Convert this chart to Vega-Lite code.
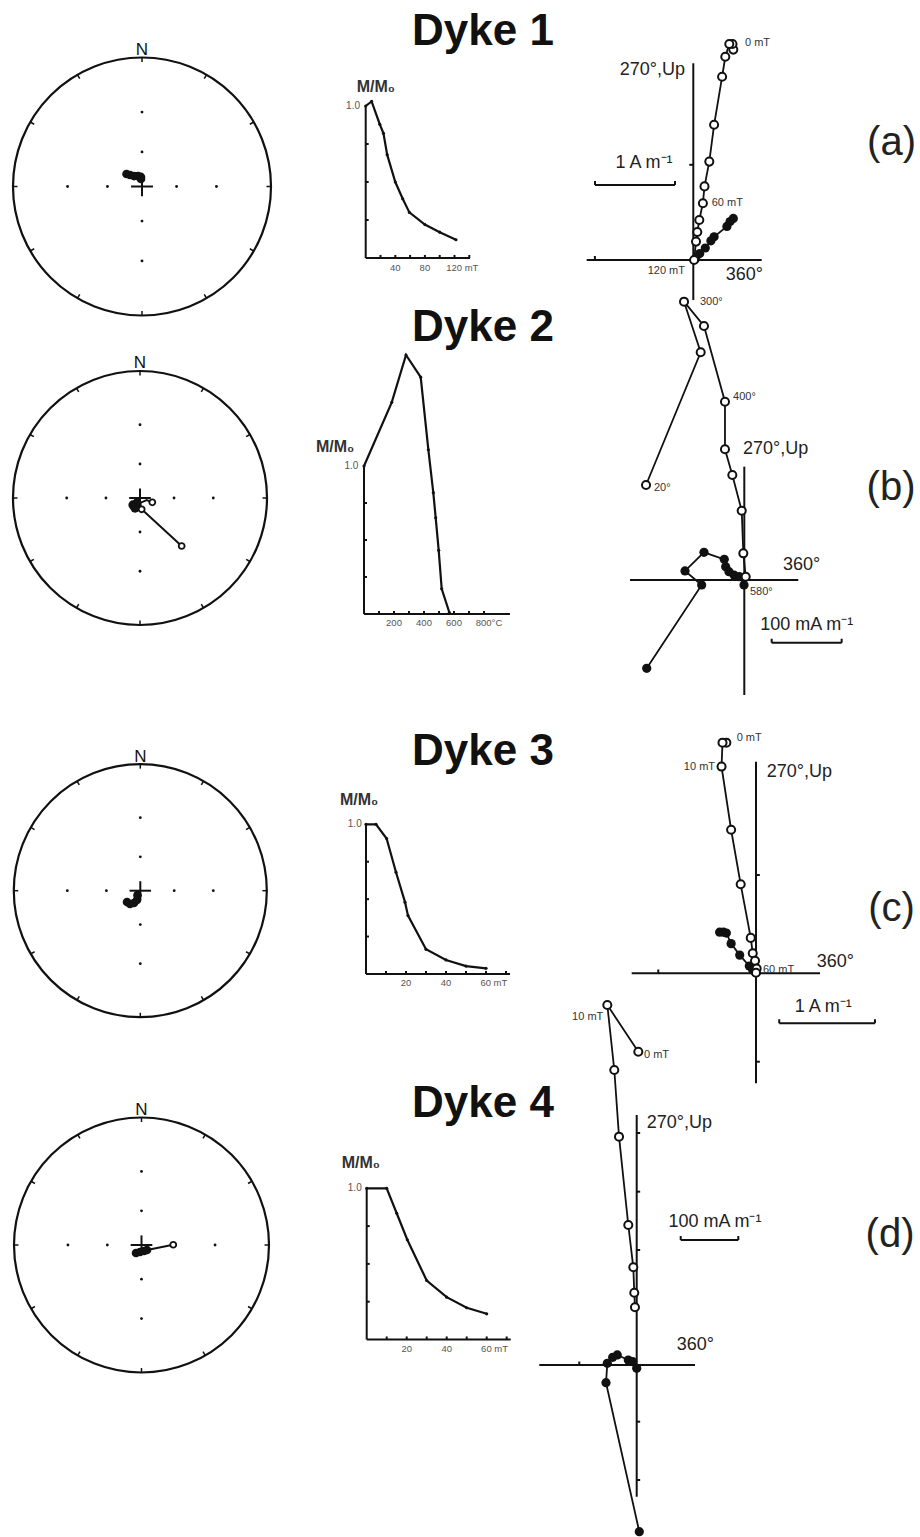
{
"$schema": "https://vega.github.io/schema/vega-lite/v6.json",
"width": 920, "height": 1537, "padding": 0,
"autosize": {"type": "none"},
"background": "white",
"config": {"view": {"stroke": null}, "mark": {"font": "Liberation Sans"}, "text": {"font": "Liberation Sans"}},
"datasets": {
"ring": [{"x": 0, "y": 0}],
"nlab": [{"x": 0, "y": 1.02, "t": "N"}],
"netticks": [
{"x":0,"y":0.965,"x2":0,"y2":1},{"x":0.4825,"y":0.8357,"x2":0.5,"y2":0.866},{"x":0.8357,"y":0.4825,"x2":0.866,"y2":0.5},
{"x":0.965,"y":0,"x2":1,"y2":0},{"x":0.8357,"y":-0.4825,"x2":0.866,"y2":-0.5},{"x":0.4825,"y":-0.8357,"x2":0.5,"y2":-0.866},
{"x":0,"y":-0.965,"x2":0,"y2":-1},{"x":-0.4825,"y":-0.8357,"x2":-0.5,"y2":-0.866},{"x":-0.8357,"y":-0.4825,"x2":-0.866,"y2":-0.5},
{"x":-0.965,"y":0,"x2":-1,"y2":0},{"x":-0.8357,"y":0.4825,"x2":-0.866,"y2":0.5},{"x":-0.4825,"y":0.8357,"x2":-0.5,"y2":0.866}],
"netdots": [{"x":0,"y":0.268},{"x":0,"y":0.577},{"x":0,"y":-0.268},{"x":0,"y":-0.577},{"x":0.268,"y":0},{"x":0.577,"y":0},{"x":-0.268,"y":0},{"x":-0.577,"y":0}],
"cross": [{"x":-0.085,"y":0,"x2":0.085,"y2":0},{"x":0,"y":-0.075,"x2":0,"y2":0.075}],
"st1": [{"x":-0.12,"y":0.097,"kind":"f"},{"x":-0.093,"y":0.089,"kind":"f"},{"x":-0.062,"y":0.081,"kind":"f"},{"x":-0.031,"y":0.081,"kind":"f"},{"x":-0.008,"y":0.074,"kind":"f"},{"x":-0.008,"y":0.058,"kind":"f"}],
"st2": [{"x":0.097,"y":-0.034,"kind":"o"},{"x":0.053,"y":-0.016,"kind":"p"},{"x":0.0,"y":-0.039,"kind":"p"},{"x":0.013,"y":-0.089,"kind":"o"},{"x":0.328,"y":-0.378,"kind":"o"},
{"x":-0.055,"y":-0.055,"kind":"f"},{"x":-0.039,"y":-0.079,"kind":"f"},{"x":-0.024,"y":-0.039,"kind":"f"}],
"st3": [{"x":-0.105,"y":-0.089,"kind":"f"},{"x":-0.081,"y":-0.105,"kind":"f"},{"x":-0.05,"y":-0.097,"kind":"f"},{"x":-0.026,"y":-0.074,"kind":"f"},{"x":-0.022,"y":-0.035,"kind":"f"}],
"st4": [{"x":0.043,"y":-0.039,"kind":"p"},{"x":0.249,"y":0.002,"kind":"o"},
{"x":-0.043,"y":-0.063,"kind":"f"},{"x":-0.012,"y":-0.055,"kind":"f"},{"x":0.02,"y":-0.047,"kind":"f"},{"x":0.043,"y":-0.039,"kind":"f"}],
"d1": [{"x":0,"y":1.0},{"x":8,"y":1.03},{"x":19,"y":0.88},{"x":24,"y":0.82},{"x":29,"y":0.68},{"x":40,"y":0.5},{"x":50,"y":0.39},{"x":59,"y":0.3},{"x":80,"y":0.22},{"x":100,"y":0.17},{"x":122,"y":0.12}],
"d2": [{"x":0,"y":1.0},{"x":185,"y":1.43},{"x":280,"y":1.75},{"x":378,"y":1.6},{"x":429,"y":1.11},{"x":462,"y":0.82},{"x":478,"y":0.65},{"x":498,"y":0.43},{"x":518,"y":0.17},{"x":569,"y":0.01}],
"d3": [{"x":0,"y":1.0},{"x":5,"y":1.0},{"x":10.3,"y":0.905},{"x":15,"y":0.68},{"x":19.5,"y":0.48},{"x":21,"y":0.39},{"x":30,"y":0.165},{"x":40,"y":0.094},{"x":50,"y":0.053},{"x":60,"y":0.038}],
"d4": [{"x":0,"y":1.0},{"x":10,"y":1.0},{"x":15,"y":0.835},{"x":20.3,"y":0.66},{"x":30,"y":0.39},{"x":40,"y":0.28},{"x":50,"y":0.21},{"x":60,"y":0.17}],
"d1ax": [{"x":0,"y":0,"x2":0,"y2":1},{"x":0,"y":0,"x2":141,"y2":0},
{"x":0,"y":0.25,"x2":4,"y2":0.25},{"x":0,"y":0.5,"x2":4,"y2":0.5},{"x":0,"y":0.75,"x2":4,"y2":0.75},
{"x":20,"y":0,"x2":20,"y2":0.02},{"x":40,"y":0,"x2":40,"y2":0.02},{"x":60,"y":0,"x2":60,"y2":0.02},{"x":80,"y":0,"x2":80,"y2":0.02},{"x":100,"y":0,"x2":100,"y2":0.02},{"x":120,"y":0,"x2":120,"y2":0.02},{"x":140,"y":0,"x2":140,"y2":0.02}],
"d2ax": [{"x":0,"y":0,"x2":0,"y2":1},{"x":0,"y":0,"x2":973,"y2":0},
{"x":0,"y":0.25,"x2":20,"y2":0.25},{"x":0,"y":0.5,"x2":20,"y2":0.5},{"x":0,"y":0.75,"x2":20,"y2":0.75},
{"x":100,"y":0,"x2":100,"y2":0.02},{"x":200,"y":0,"x2":200,"y2":0.02},{"x":300,"y":0,"x2":300,"y2":0.02},{"x":400,"y":0,"x2":400,"y2":0.02},{"x":500,"y":0,"x2":500,"y2":0.02},{"x":600,"y":0,"x2":600,"y2":0.02},{"x":700,"y":0,"x2":700,"y2":0.02},{"x":800,"y":0,"x2":800,"y2":0.02}],
"d34ax": [{"x":0,"y":0,"x2":0,"y2":1},{"x":0,"y":0,"x2":72,"y2":0},
{"x":0,"y":0.25,"x2":1.5,"y2":0.25},{"x":0,"y":0.5,"x2":1.5,"y2":0.5},{"x":0,"y":0.75,"x2":1.5,"y2":0.75},
{"x":10,"y":0,"x2":10,"y2":0.02},{"x":20,"y":0,"x2":20,"y2":0.02},{"x":30,"y":0,"x2":30,"y2":0.02},{"x":40,"y":0,"x2":40,"y2":0.02},{"x":50,"y":0,"x2":50,"y2":0.02},{"x":60,"y":0,"x2":60,"y2":0.02},{"x":70,"y":0,"x2":70,"y2":0.02}],
"d1t": [{"x":40,"y":-0.03,"t":"40","r":"tc"},{"x":80,"y":-0.03,"t":"80","r":"tc"},{"x":108.7,"y":-0.03,"t":"120 mT","r":"tl"},{"x":-7.7,"y":1,"t":"1.0","r":"yl"},{"x":-12.2,"y":1.092,"t":"M/M₀","r":"ml"},{"x":158.5,"y":1.401,"t":"Dyke 1","r":"ti"}],
"d2t": [{"x":200,"y":-0.027,"t":"200","r":"tc"},{"x":400,"y":-0.027,"t":"400","r":"tc"},{"x":600,"y":-0.027,"t":"600","r":"tc"},{"x":745,"y":-0.027,"t":"800°C","r":"tl"},{"x":-38,"y":1,"t":"1.0","r":"yl"},{"x":-320,"y":1.097,"t":"M/M₀","r":"ml"},{"x":793.3,"y":1.845,"t":"Dyke 2","r":"ti"}],
"d3t": [{"x":20,"y":-0.027,"t":"20","r":"tc"},{"x":40,"y":-0.027,"t":"40","r":"tc"},{"x":57.2,"y":-0.027,"t":"60 mT","r":"tl"},{"x":-2.15,"y":1,"t":"1.0","r":"yl"},{"x":-13,"y":1.129,"t":"M/M₀","r":"ml"},{"x":58.5,"y":1.396,"t":"Dyke 3","r":"ti"}],
"d4t": [{"x":20,"y":-0.027,"t":"20","r":"tc"},{"x":40,"y":-0.027,"t":"40","r":"tc"},{"x":57.2,"y":-0.027,"t":"60 mT","r":"tl"},{"x":-2.5,"y":1,"t":"1.0","r":"yl"},{"x":-12.5,"y":1.132,"t":"M/M₀","r":"ml"},{"x":58.15,"y":1.4735,"t":"Dyke 4","r":"ti"}],
"z1": [{"x":0.5,"y":2.63,"kind":"o"},{"x":0.49,"y":2.7,"kind":"o"},{"x":0.45,"y":2.7,"kind":"o"},{"x":0.4,"y":2.54,"kind":"o"},{"x":0.36,"y":2.29,"kind":"o"},{"x":0.26,"y":1.69,"kind":"o"},{"x":0.2,"y":1.23,"kind":"o"},{"x":0.14,"y":0.92,"kind":"o"},{"x":0.12,"y":0.71,"kind":"o"},{"x":0.075,"y":0.5,"kind":"o"},{"x":0.05,"y":0.35,"kind":"o"},{"x":0.034,"y":0.23,"kind":"o"},{"x":0.01,"y":0.0,"kind":"o"},
{"x":0.5,"y":0.52,"kind":"f"},{"x":0.46,"y":0.48,"kind":"f"},{"x":0.42,"y":0.42,"kind":"f"},{"x":0.26,"y":0.29,"kind":"f"},{"x":0.22,"y":0.24,"kind":"f"},{"x":0.15,"y":0.15,"kind":"f"},{"x":0.08,"y":0.08,"kind":"f"},{"x":0.03,"y":0.02,"kind":"f"}],
"z2": [{"x":-140.4,"y":135.7,"kind":"o"},{"x":-62.3,"y":325.3,"kind":"o"},{"x":-86.1,"y":397.6,"kind":"o"},{"x":-57.6,"y":362.9,"kind":"o"},{"x":-27.6,"y":254.7,"kind":"o"},{"x":-27.6,"y":186.7,"kind":"o"},{"x":-17.1,"y":150,"kind":"o"},{"x":-3.7,"y":99,"kind":"o"},{"x":-1.4,"y":38.1,"kind":"o"},{"x":2,"y":4.7,"kind":"o"},
{"x":-139.4,"y":-126.2,"kind":"f"},{"x":-60.9,"y":-7.1,"kind":"f"},{"x":-84.7,"y":12.9,"kind":"f"},{"x":-57.6,"y":39.5,"kind":"f"},{"x":-28.6,"y":29.5,"kind":"f"},{"x":-26.6,"y":19,"kind":"f"},{"x":-21.9,"y":11.9,"kind":"f"},{"x":-14.7,"y":7.1,"kind":"f"},{"x":-7.1,"y":4.7,"kind":"f"},{"x":-0.4,"y":-7.1,"kind":"f"}],
"z3": [{"x":-0.31,"y":2.41,"kind":"o"},{"x":-0.35,"y":2.41,"kind":"o"},{"x":-0.36,"y":2.16,"kind":"o"},{"x":-0.26,"y":1.5,"kind":"o"},{"x":-0.16,"y":0.93,"kind":"o"},{"x":-0.055,"y":0.37,"kind":"o"},{"x":-0.034,"y":0.21,"kind":"o"},{"x":-0.01,"y":0.13,"kind":"o"},{"x":0.007,"y":0.05,"kind":"o"},{"x":0,"y":0.006,"kind":"o"},
{"x":-0.38,"y":0.43,"kind":"f"},{"x":-0.34,"y":0.43,"kind":"f"},{"x":-0.31,"y":0.42,"kind":"f"},{"x":-0.26,"y":0.31,"kind":"f"},{"x":-0.17,"y":0.19,"kind":"f"},{"x":-0.07,"y":0.076,"kind":"f"},{"x":-0.034,"y":0.034,"kind":"f"},{"x":0,"y":0.006,"kind":"f"}],
"z4": [{"x":2.8,"y":543.9,"kind":"o"},{"x":-51,"y":625,"kind":"o"},{"x":-38.9,"y":512.2,"kind":"o"},{"x":-30.7,"y":396.4,"kind":"o"},{"x":-14.6,"y":243.1,"kind":"o"},{"x":-5.9,"y":169.6,"kind":"o"},{"x":-4.2,"y":125.5,"kind":"o"},{"x":-3.0,"y":100.2,"kind":"o"},
{"x":4.5,"y":-289.4,"kind":"f"},{"x":-53.3,"y":-30.7,"kind":"f"},{"x":-51,"y":2.9,"kind":"f"},{"x":-41.7,"y":13.4,"kind":"f"},{"x":-33.7,"y":17.4,"kind":"f"},{"x":-14.6,"y":8.7,"kind":"f"},{"x":-6.9,"y":5.7,"kind":"f"},{"x":0,"y":-5.7,"kind":"f"}],
"z1ax": [{"x":-1.333,"y":0,"x2":0.855,"y2":0},{"x":0,"y":-0.5,"x2":0,"y2":2.459},{"x":-1.23,"y":0,"x2":-1.23,"y2":0.05},{"x":-0.05,"y":1.19,"x2":0,"y2":1.19},
{"x":-1.229,"y":0.9375,"x2":-0.229,"y2":0.9375},{"x":-1.229,"y":0.9375,"x2":-1.229,"y2":0.9875},{"x":-0.229,"y":0.9375,"x2":-0.229,"y2":0.9875}],
"z2ax": [{"x":-163.3,"y":0,"x2":77.1,"y2":0},{"x":0,"y":-164.3,"x2":0,"y2":161.9},
{"x":39.1,"y":-89.6,"x2":139.1,"y2":-89.6},{"x":39.1,"y":-89.6,"x2":39.1,"y2":-83.9},{"x":139.1,"y":-89.6,"x2":139.1,"y2":-83.9}],
"z3ax": [{"x":-1.299,"y":0,"x2":0.669,"y2":0},{"x":0,"y":-1.149,"x2":0,"y2":2.211},{"x":-1.021,"y":0,"x2":-1.021,"y2":0.04},{"x":0,"y":1.027,"x2":0.04,"y2":1.027},{"x":0,"y":-0.924,"x2":0.04,"y2":-0.924},
{"x":0.243,"y":-0.522,"x2":1.243,"y2":-0.522},{"x":0.243,"y":-0.522,"x2":0.243,"y2":-0.48},{"x":1.243,"y":-0.522,"x2":1.243,"y2":-0.48}],
"z4ax": [{"x":-169.1,"y":0,"x2":101.2,"y2":0},{"x":0,"y":-228.6,"x2":0,"y2":434},{"x":-99.7,"y":0,"x2":-99.7,"y2":6},
{"x":0,"y":402.8,"x2":6,"y2":402.8},{"x":0,"y":300.9,"x2":6,"y2":300.9},{"x":0,"y":199.7,"x2":6,"y2":199.7},{"x":0,"y":-98.4,"x2":6,"y2":-98.4},{"x":0,"y":-199.7,"x2":6,"y2":-199.7},
{"x":76.4,"y":217,"x2":176.4,"y2":217},{"x":76.4,"y":217,"x2":76.4,"y2":223.9},{"x":176.4,"y":217,"x2":176.4,"y2":223.9}],
"z1t": [{"x":0.646,"y":2.7125,"t":"0 mT","r":"sl"},{"x":0.23,"y":0.7125,"t":"60 mT","r":"sl"},{"x":-0.104,"y":-0.134,"t":"120 mT","r":"sr"},{"x":-0.104,"y":2.375,"t":"270°,Up","r":"br"},{"x":0.405,"y":-0.1875,"t":"360°","r":"bl"},{"x":-0.616,"y":1.2125,"t":"1 A m⁻¹","r":"bc"},{"x":2.478,"y":1.4625,"t":"(a)","r":"lt"}],
"z2t": [{"x":-63.3,"y":397.6,"t":"300°","r":"sl"},{"x":-16.1,"y":261.9,"t":"400°","r":"sl"},{"x":-129,"y":131.4,"t":"20°","r":"sl"},{"x":8.1,"y":-16.7,"t":"580°","r":"sl"},{"x":-1.9,"y":186.7,"t":"270°,Up","r":"bl"},{"x":55.3,"y":21.4,"t":"360°","r":"bl"},{"x":89.1,"y":-64.3,"t":"100 mA m⁻¹","r":"bc"},{"x":209.6,"y":131.4,"t":"(b)","r":"lt"}],
"z3t": [{"x":-0.202,"y":2.456,"t":"0 mT","r":"sl"},{"x":0.073,"y":0.034,"t":"60 mT","r":"sl"},{"x":-0.428,"y":2.159,"t":"10 mT","r":"sr"},{"x":0.112,"y":2.107,"t":"270°,Up","r":"bl"},{"x":0.634,"y":0.121,"t":"360°","r":"bl"},{"x":0.703,"y":-0.349,"t":"1 A m⁻¹","r":"bc"},{"x":1.416,"y":0.672,"t":"(c)","r":"lt"}],
"z4t": [{"x":12.7,"y":538.2,"t":"0 mT","r":"sl"},{"x":-58,"y":604.7,"t":"10 mT","r":"sr"},{"x":17.4,"y":419.6,"t":"270°,Up","r":"bl"},{"x":69.4,"y":34.7,"t":"360°","r":"bl"},{"x":135.9,"y":248.8,"t":"100 mA m⁻¹","r":"bc"},{"x":439.8,"y":225.7,"t":"(d)","r":"lt"}]
},
"resolve": {"scale": {"x": "independent", "y": "independent"}},
"layer": [
{"encoding":{"x":{"field":"x","type":"quantitative","axis":null,"scale":{"domain":[-1,1],"range":[13,271],"nice":false,"zero":false}},"y":{"field":"y","type":"quantitative","axis":null,"scale":{"domain":[-1,1],"range":[315.5,57.5],"nice":false,"zero":false}}},
"layer":[
{"data":{"name":"ring"},"mark":{"type":"point","shape":"circle","size":66564,"filled":false,"stroke":"#111","strokeWidth":2.2,"opacity":1}},
{"data":{"name":"netticks"},"mark":{"type":"rule","color":"#111","strokeWidth":1.5},"encoding":{"x2":{"field":"x2"},"y2":{"field":"y2"}}},
{"data":{"name":"netdots"},"mark":{"type":"point","shape":"circle","filled":true,"size":8,"color":"#111","opacity":1}},
{"data":{"name":"cross"},"mark":{"type":"rule","color":"#111","strokeWidth":2},"encoding":{"x2":{"field":"x2"},"y2":{"field":"y2"}}},
{"data":{"name":"st1"},"transform":[{"filter":"datum.kind == 'f'"}],"mark":{"type":"point","shape":"circle","filled":true,"color":"#111","size":75,"opacity":1}},
{"data":{"name":"nlab"},"mark":{"type":"text","fontSize":17,"align":"center","baseline":"alphabetic","color":"#111"},"encoding":{"text":{"field":"t"}}}
]},
{"encoding":{"x":{"field":"x","type":"quantitative","axis":null,"scale":{"domain":[-1,1],"range":[13,267],"nice":false,"zero":false}},"y":{"field":"y","type":"quantitative","axis":null,"scale":{"domain":[-1,1],"range":[625,371],"nice":false,"zero":false}}},
"layer":[
{"data":{"name":"ring"},"mark":{"type":"point","shape":"circle","size":64516,"filled":false,"stroke":"#111","strokeWidth":2.2,"opacity":1}},
{"data":{"name":"netticks"},"mark":{"type":"rule","color":"#111","strokeWidth":1.5},"encoding":{"x2":{"field":"x2"},"y2":{"field":"y2"}}},
{"data":{"name":"netdots"},"mark":{"type":"point","shape":"circle","filled":true,"size":8,"color":"#111","opacity":1}},
{"data":{"name":"cross"},"mark":{"type":"rule","color":"#111","strokeWidth":2},"encoding":{"x2":{"field":"x2"},"y2":{"field":"y2"}}},
{"data":{"name":"st2"},"transform":[{"filter":"datum.kind != 'f'"}],"mark":{"type":"line","color":"#111","strokeWidth":2},"encoding":{"order":{"value":null}}},
{"data":{"name":"st2"},"transform":[{"filter":"datum.kind == 'f'"}],"mark":{"type":"point","shape":"circle","filled":true,"color":"#111","size":85,"opacity":1}},
{"data":{"name":"st2"},"transform":[{"filter":"datum.kind == 'o'"}],"mark":{"type":"point","shape":"circle","filled":true,"fill":"white","stroke":"#111","strokeWidth":1.8,"size":35,"opacity":1}},
{"data":{"name":"nlab"},"mark":{"type":"text","fontSize":17,"align":"center","baseline":"alphabetic","color":"#111"},"encoding":{"text":{"field":"t"}}}
]},
{"encoding":{"x":{"field":"x","type":"quantitative","axis":null,"scale":{"domain":[-1,1],"range":[13.8,266.8],"nice":false,"zero":false}},"y":{"field":"y","type":"quantitative","axis":null,"scale":{"domain":[-1,1],"range":[1017.2,764.2],"nice":false,"zero":false}}},
"layer":[
{"data":{"name":"ring"},"mark":{"type":"point","shape":"circle","size":64009,"filled":false,"stroke":"#111","strokeWidth":2.2,"opacity":1}},
{"data":{"name":"netticks"},"mark":{"type":"rule","color":"#111","strokeWidth":1.5},"encoding":{"x2":{"field":"x2"},"y2":{"field":"y2"}}},
{"data":{"name":"netdots"},"mark":{"type":"point","shape":"circle","filled":true,"size":8,"color":"#111","opacity":1}},
{"data":{"name":"cross"},"mark":{"type":"rule","color":"#111","strokeWidth":2},"encoding":{"x2":{"field":"x2"},"y2":{"field":"y2"}}},
{"data":{"name":"st3"},"transform":[{"filter":"datum.kind == 'f'"}],"mark":{"type":"point","shape":"circle","filled":true,"color":"#111","size":75,"opacity":1}},
{"data":{"name":"nlab"},"mark":{"type":"text","fontSize":17,"align":"center","baseline":"alphabetic","color":"#111"},"encoding":{"text":{"field":"t"}}}
]},
{"encoding":{"x":{"field":"x","type":"quantitative","axis":null,"scale":{"domain":[-1,1],"range":[14,269],"nice":false,"zero":false}},"y":{"field":"y","type":"quantitative","axis":null,"scale":{"domain":[-1,1],"range":[1372.5,1117.5],"nice":false,"zero":false}}},
"layer":[
{"data":{"name":"ring"},"mark":{"type":"point","shape":"circle","size":65025,"filled":false,"stroke":"#111","strokeWidth":2.2,"opacity":1}},
{"data":{"name":"netticks"},"mark":{"type":"rule","color":"#111","strokeWidth":1.5},"encoding":{"x2":{"field":"x2"},"y2":{"field":"y2"}}},
{"data":{"name":"netdots"},"mark":{"type":"point","shape":"circle","filled":true,"size":8,"color":"#111","opacity":1}},
{"data":{"name":"cross"},"mark":{"type":"rule","color":"#111","strokeWidth":2},"encoding":{"x2":{"field":"x2"},"y2":{"field":"y2"}}},
{"data":{"name":"st4"},"transform":[{"filter":"datum.kind != 'f'"}],"mark":{"type":"line","color":"#111","strokeWidth":2},"encoding":{"order":{"value":null}}},
{"data":{"name":"st4"},"transform":[{"filter":"datum.kind == 'f'"}],"mark":{"type":"point","shape":"circle","filled":true,"color":"#111","size":75,"opacity":1}},
{"data":{"name":"st4"},"transform":[{"filter":"datum.kind == 'o'"}],"mark":{"type":"point","shape":"circle","filled":true,"fill":"white","stroke":"#111","strokeWidth":1.8,"size":35,"opacity":1}},
{"data":{"name":"nlab"},"mark":{"type":"text","fontSize":17,"align":"center","baseline":"alphabetic","color":"#111"},"encoding":{"text":{"field":"t"}}}
]},
{"encoding":{"x":{"field":"x","type":"quantitative","axis":null,"scale":{"domain":[0,120],"range":[365.7,454.5],"nice":false,"zero":false}},"y":{"field":"y","type":"quantitative","axis":null,"scale":{"domain":[0,1],"range":[258,106],"nice":false,"zero":false}}},
"layer":[
{"data":{"name":"d1ax"},"mark":{"type":"rule","color":"#111","strokeWidth":2},"encoding":{"x2":{"field":"x2"},"y2":{"field":"y2"}}},
{"data":{"name":"d1"},"mark":{"type":"line","color":"#111","strokeWidth":2.2},"encoding":{"order":{"value":null}}},
{"data":{"name":"d1"},"mark":{"type":"point","shape":"circle","filled":true,"color":"#111","size":10,"opacity":1}},
{"data":{"name":"d1t"},"transform":[{"filter":"datum.r == 'tc'"}],"mark":{"type":"text","fontSize":9.5,"align":"center","baseline":"top","color":"#555"},"encoding":{"text":{"field":"t"}}},
{"data":{"name":"d1t"},"transform":[{"filter":"datum.r == 'tl'"}],"mark":{"type":"text","fontSize":9.5,"align":"left","baseline":"top","color":"#555"},"encoding":{"text":{"field":"t"}}},
{"data":{"name":"d1t"},"transform":[{"filter":"datum.r == 'yl'"}],"mark":{"type":"text","fontSize":10,"align":"right","baseline":"middle","color":"#555"},"encoding":{"text":{"field":"t"}}},
{"data":{"name":"d1t"},"transform":[{"filter":"datum.r == 'ml'"}],"mark":{"type":"text","fontSize":16,"fontWeight":"bold","align":"left","baseline":"alphabetic","color":"#333"},"encoding":{"text":{"field":"t"}}},
{"data":{"name":"d1t"},"transform":[{"filter":"datum.r == 'ti'"}],"mark":{"type":"text","fontSize":44,"fontWeight":"bold","align":"center","baseline":"alphabetic","color":"#111"},"encoding":{"text":{"field":"t"}}}
]},
{"encoding":{"x":{"field":"x","type":"quantitative","axis":null,"scale":{"domain":[0,800],"range":[364,484],"nice":false,"zero":false}},"y":{"field":"y","type":"quantitative","axis":null,"scale":{"domain":[0,1],"range":[614,466],"nice":false,"zero":false}}},
"layer":[
{"data":{"name":"d2ax"},"mark":{"type":"rule","color":"#111","strokeWidth":2},"encoding":{"x2":{"field":"x2"},"y2":{"field":"y2"}}},
{"data":{"name":"d2"},"mark":{"type":"line","color":"#111","strokeWidth":2.2},"encoding":{"order":{"value":null}}},
{"data":{"name":"d2"},"mark":{"type":"point","shape":"circle","filled":true,"color":"#111","size":10,"opacity":1}},
{"data":{"name":"d2t"},"transform":[{"filter":"datum.r == 'tc'"}],"mark":{"type":"text","fontSize":9.5,"align":"center","baseline":"top","color":"#555"},"encoding":{"text":{"field":"t"}}},
{"data":{"name":"d2t"},"transform":[{"filter":"datum.r == 'tl'"}],"mark":{"type":"text","fontSize":9.5,"align":"left","baseline":"top","color":"#555"},"encoding":{"text":{"field":"t"}}},
{"data":{"name":"d2t"},"transform":[{"filter":"datum.r == 'yl'"}],"mark":{"type":"text","fontSize":10,"align":"right","baseline":"middle","color":"#555"},"encoding":{"text":{"field":"t"}}},
{"data":{"name":"d2t"},"transform":[{"filter":"datum.r == 'ml'"}],"mark":{"type":"text","fontSize":16,"fontWeight":"bold","align":"left","baseline":"alphabetic","color":"#333"},"encoding":{"text":{"field":"t"}}},
{"data":{"name":"d2t"},"transform":[{"filter":"datum.r == 'ti'"}],"mark":{"type":"text","fontSize":44,"fontWeight":"bold","align":"center","baseline":"alphabetic","color":"#111"},"encoding":{"text":{"field":"t"}}}
]},
{"encoding":{"x":{"field":"x","type":"quantitative","axis":null,"scale":{"domain":[0,60],"range":[366,486],"nice":false,"zero":false}},"y":{"field":"y","type":"quantitative","axis":null,"scale":{"domain":[0,1],"range":[974,824.3],"nice":false,"zero":false}}},
"layer":[
{"data":{"name":"d34ax"},"mark":{"type":"rule","color":"#111","strokeWidth":2},"encoding":{"x2":{"field":"x2"},"y2":{"field":"y2"}}},
{"data":{"name":"d3"},"mark":{"type":"line","color":"#111","strokeWidth":2.2},"encoding":{"order":{"value":null}}},
{"data":{"name":"d3"},"mark":{"type":"point","shape":"circle","filled":true,"color":"#111","size":10,"opacity":1}},
{"data":{"name":"d3t"},"transform":[{"filter":"datum.r == 'tc'"}],"mark":{"type":"text","fontSize":9.5,"align":"center","baseline":"top","color":"#555"},"encoding":{"text":{"field":"t"}}},
{"data":{"name":"d3t"},"transform":[{"filter":"datum.r == 'tl'"}],"mark":{"type":"text","fontSize":9.5,"align":"left","baseline":"top","color":"#555"},"encoding":{"text":{"field":"t"}}},
{"data":{"name":"d3t"},"transform":[{"filter":"datum.r == 'yl'"}],"mark":{"type":"text","fontSize":10,"align":"right","baseline":"middle","color":"#555"},"encoding":{"text":{"field":"t"}}},
{"data":{"name":"d3t"},"transform":[{"filter":"datum.r == 'ml'"}],"mark":{"type":"text","fontSize":16,"fontWeight":"bold","align":"left","baseline":"alphabetic","color":"#333"},"encoding":{"text":{"field":"t"}}},
{"data":{"name":"d3t"},"transform":[{"filter":"datum.r == 'ti'"}],"mark":{"type":"text","fontSize":44,"fontWeight":"bold","align":"center","baseline":"alphabetic","color":"#111"},"encoding":{"text":{"field":"t"}}}
]},
{"encoding":{"x":{"field":"x","type":"quantitative","axis":null,"scale":{"domain":[0,60],"range":[366.7,486.7],"nice":false,"zero":false}},"y":{"field":"y","type":"quantitative","axis":null,"scale":{"domain":[0,1],"range":[1339.5,1188.3],"nice":false,"zero":false}}},
"layer":[
{"data":{"name":"d34ax"},"mark":{"type":"rule","color":"#111","strokeWidth":2},"encoding":{"x2":{"field":"x2"},"y2":{"field":"y2"}}},
{"data":{"name":"d4"},"mark":{"type":"line","color":"#111","strokeWidth":2.2},"encoding":{"order":{"value":null}}},
{"data":{"name":"d4"},"mark":{"type":"point","shape":"circle","filled":true,"color":"#111","size":10,"opacity":1}},
{"data":{"name":"d4t"},"transform":[{"filter":"datum.r == 'tc'"}],"mark":{"type":"text","fontSize":9.5,"align":"center","baseline":"top","color":"#555"},"encoding":{"text":{"field":"t"}}},
{"data":{"name":"d4t"},"transform":[{"filter":"datum.r == 'tl'"}],"mark":{"type":"text","fontSize":9.5,"align":"left","baseline":"top","color":"#555"},"encoding":{"text":{"field":"t"}}},
{"data":{"name":"d4t"},"transform":[{"filter":"datum.r == 'yl'"}],"mark":{"type":"text","fontSize":10,"align":"right","baseline":"middle","color":"#555"},"encoding":{"text":{"field":"t"}}},
{"data":{"name":"d4t"},"transform":[{"filter":"datum.r == 'ml'"}],"mark":{"type":"text","fontSize":16,"fontWeight":"bold","align":"left","baseline":"alphabetic","color":"#333"},"encoding":{"text":{"field":"t"}}},
{"data":{"name":"d4t"},"transform":[{"filter":"datum.r == 'ti'"}],"mark":{"type":"text","fontSize":44,"fontWeight":"bold","align":"center","baseline":"alphabetic","color":"#111"},"encoding":{"text":{"field":"t"}}}
]},
{"encoding":{"x":{"field":"x","type":"quantitative","axis":null,"scale":{"domain":[-1,1],"range":[613.3,773.3],"nice":false,"zero":false}},"y":{"field":"y","type":"quantitative","axis":null,"scale":{"domain":[-1,1],"range":[340,180],"nice":false,"zero":false}}},
"layer":[
{"data":{"name":"z1ax"},"mark":{"type":"rule","color":"#111","strokeWidth":2},"encoding":{"x2":{"field":"x2"},"y2":{"field":"y2"}}},
{"data":{"name":"z1"},"transform":[{"filter":"datum.kind == 'o'"}],"mark":{"type":"line","color":"#111","strokeWidth":1.8},"encoding":{"order":{"value":null}}},
{"data":{"name":"z1"},"transform":[{"filter":"datum.kind == 'f'"}],"mark":{"type":"line","color":"#111","strokeWidth":1.8},"encoding":{"order":{"value":null}}},
{"data":{"name":"z1"},"transform":[{"filter":"datum.kind == 'f'"}],"mark":{"type":"point","shape":"circle","filled":true,"color":"#111","size":85,"opacity":1}},
{"data":{"name":"z1"},"transform":[{"filter":"datum.kind == 'o'"}],"mark":{"type":"point","shape":"circle","filled":true,"fill":"white","stroke":"#111","strokeWidth":2,"size":65,"opacity":1}},
{"data":{"name":"z1t"},"transform":[{"filter":"datum.r == 'sl'"}],"mark":{"type":"text","fontSize":11,"align":"left","baseline":"middle","color":"#333"},"encoding":{"text":{"field":"t"}}},
{"data":{"name":"z1t"},"transform":[{"filter":"datum.r == 'sr'"}],"mark":{"type":"text","fontSize":11,"align":"right","baseline":"middle","color":"#333"},"encoding":{"text":{"field":"t"}}},
{"data":{"name":"z1t"},"transform":[{"filter":"datum.r == 'bl'"}],"mark":{"type":"text","fontSize":18,"align":"left","baseline":"middle","color":"#222"},"encoding":{"text":{"field":"t"}}},
{"data":{"name":"z1t"},"transform":[{"filter":"datum.r == 'br'"}],"mark":{"type":"text","fontSize":18,"align":"right","baseline":"middle","color":"#222"},"encoding":{"text":{"field":"t"}}},
{"data":{"name":"z1t"},"transform":[{"filter":"datum.r == 'bc'"}],"mark":{"type":"text","fontSize":18,"align":"center","baseline":"middle","color":"#222"},"encoding":{"text":{"field":"t"}}},
{"data":{"name":"z1t"},"transform":[{"filter":"datum.r == 'lt'"}],"mark":{"type":"text","fontSize":40,"align":"center","baseline":"middle","color":"#222"},"encoding":{"text":{"field":"t"}}}
]},
{"encoding":{"x":{"field":"x","type":"quantitative","axis":null,"scale":{"domain":[-100,100],"range":[674.3,814.3],"nice":false,"zero":false}},"y":{"field":"y","type":"quantitative","axis":null,"scale":{"domain":[-100,100],"range":[650,510],"nice":false,"zero":false}}},
"layer":[
{"data":{"name":"z2ax"},"mark":{"type":"rule","color":"#111","strokeWidth":2},"encoding":{"x2":{"field":"x2"},"y2":{"field":"y2"}}},
{"data":{"name":"z2"},"transform":[{"filter":"datum.kind == 'o'"}],"mark":{"type":"line","color":"#111","strokeWidth":1.8},"encoding":{"order":{"value":null}}},
{"data":{"name":"z2"},"transform":[{"filter":"datum.kind == 'f'"}],"mark":{"type":"line","color":"#111","strokeWidth":1.8},"encoding":{"order":{"value":null}}},
{"data":{"name":"z2"},"transform":[{"filter":"datum.kind == 'f'"}],"mark":{"type":"point","shape":"circle","filled":true,"color":"#111","size":85,"opacity":1}},
{"data":{"name":"z2"},"transform":[{"filter":"datum.kind == 'o'"}],"mark":{"type":"point","shape":"circle","filled":true,"fill":"white","stroke":"#111","strokeWidth":2,"size":65,"opacity":1}},
{"data":{"name":"z2t"},"transform":[{"filter":"datum.r == 'sl'"}],"mark":{"type":"text","fontSize":11,"align":"left","baseline":"middle","color":"#333"},"encoding":{"text":{"field":"t"}}},
{"data":{"name":"z2t"},"transform":[{"filter":"datum.r == 'bl'"}],"mark":{"type":"text","fontSize":18,"align":"left","baseline":"middle","color":"#222"},"encoding":{"text":{"field":"t"}}},
{"data":{"name":"z2t"},"transform":[{"filter":"datum.r == 'bc'"}],"mark":{"type":"text","fontSize":18,"align":"center","baseline":"middle","color":"#222"},"encoding":{"text":{"field":"t"}}},
{"data":{"name":"z2t"},"transform":[{"filter":"datum.r == 'lt'"}],"mark":{"type":"text","fontSize":40,"align":"center","baseline":"middle","color":"#222"},"encoding":{"text":{"field":"t"}}}
]},
{"encoding":{"x":{"field":"x","type":"quantitative","axis":null,"scale":{"domain":[-1,1],"range":[660.3,851.7],"nice":false,"zero":false}},"y":{"field":"y","type":"quantitative","axis":null,"scale":{"domain":[-1,1],"range":[1069,877.6],"nice":false,"zero":false}}},
"layer":[
{"data":{"name":"z3ax"},"mark":{"type":"rule","color":"#111","strokeWidth":2},"encoding":{"x2":{"field":"x2"},"y2":{"field":"y2"}}},
{"data":{"name":"z3"},"transform":[{"filter":"datum.kind == 'o'"}],"mark":{"type":"line","color":"#111","strokeWidth":1.8},"encoding":{"order":{"value":null}}},
{"data":{"name":"z3"},"transform":[{"filter":"datum.kind == 'f'"}],"mark":{"type":"line","color":"#111","strokeWidth":1.8},"encoding":{"order":{"value":null}}},
{"data":{"name":"z3"},"transform":[{"filter":"datum.kind == 'f'"}],"mark":{"type":"point","shape":"circle","filled":true,"color":"#111","size":85,"opacity":1}},
{"data":{"name":"z3"},"transform":[{"filter":"datum.kind == 'o'"}],"mark":{"type":"point","shape":"circle","filled":true,"fill":"white","stroke":"#111","strokeWidth":2,"size":65,"opacity":1}},
{"data":{"name":"z3t"},"transform":[{"filter":"datum.r == 'sl'"}],"mark":{"type":"text","fontSize":11,"align":"left","baseline":"middle","color":"#333"},"encoding":{"text":{"field":"t"}}},
{"data":{"name":"z3t"},"transform":[{"filter":"datum.r == 'sr'"}],"mark":{"type":"text","fontSize":11,"align":"right","baseline":"middle","color":"#333"},"encoding":{"text":{"field":"t"}}},
{"data":{"name":"z3t"},"transform":[{"filter":"datum.r == 'bl'"}],"mark":{"type":"text","fontSize":18,"align":"left","baseline":"middle","color":"#222"},"encoding":{"text":{"field":"t"}}},
{"data":{"name":"z3t"},"transform":[{"filter":"datum.r == 'bc'"}],"mark":{"type":"text","fontSize":18,"align":"center","baseline":"middle","color":"#222"},"encoding":{"text":{"field":"t"}}},
{"data":{"name":"z3t"},"transform":[{"filter":"datum.r == 'lt'"}],"mark":{"type":"text","fontSize":40,"align":"center","baseline":"middle","color":"#222"},"encoding":{"text":{"field":"t"}}}
]},
{"encoding":{"x":{"field":"x","type":"quantitative","axis":null,"scale":{"domain":[-100,100],"range":[579.1,694.3],"nice":false,"zero":false}},"y":{"field":"y","type":"quantitative","axis":null,"scale":{"domain":[-100,100],"range":[1422.6,1307.4],"nice":false,"zero":false}}},
"layer":[
{"data":{"name":"z4ax"},"mark":{"type":"rule","color":"#111","strokeWidth":2},"encoding":{"x2":{"field":"x2"},"y2":{"field":"y2"}}},
{"data":{"name":"z4"},"transform":[{"filter":"datum.kind == 'o'"}],"mark":{"type":"line","color":"#111","strokeWidth":1.8},"encoding":{"order":{"value":null}}},
{"data":{"name":"z4"},"transform":[{"filter":"datum.kind == 'f'"}],"mark":{"type":"line","color":"#111","strokeWidth":1.8},"encoding":{"order":{"value":null}}},
{"data":{"name":"z4"},"transform":[{"filter":"datum.kind == 'f'"}],"mark":{"type":"point","shape":"circle","filled":true,"color":"#111","size":85,"opacity":1}},
{"data":{"name":"z4"},"transform":[{"filter":"datum.kind == 'o'"}],"mark":{"type":"point","shape":"circle","filled":true,"fill":"white","stroke":"#111","strokeWidth":2,"size":65,"opacity":1}},
{"data":{"name":"z4t"},"transform":[{"filter":"datum.r == 'sl'"}],"mark":{"type":"text","fontSize":11,"align":"left","baseline":"middle","color":"#333"},"encoding":{"text":{"field":"t"}}},
{"data":{"name":"z4t"},"transform":[{"filter":"datum.r == 'sr'"}],"mark":{"type":"text","fontSize":11,"align":"right","baseline":"middle","color":"#333"},"encoding":{"text":{"field":"t"}}},
{"data":{"name":"z4t"},"transform":[{"filter":"datum.r == 'bl'"}],"mark":{"type":"text","fontSize":18,"align":"left","baseline":"middle","color":"#222"},"encoding":{"text":{"field":"t"}}},
{"data":{"name":"z4t"},"transform":[{"filter":"datum.r == 'bc'"}],"mark":{"type":"text","fontSize":18,"align":"center","baseline":"middle","color":"#222"},"encoding":{"text":{"field":"t"}}},
{"data":{"name":"z4t"},"transform":[{"filter":"datum.r == 'lt'"}],"mark":{"type":"text","fontSize":40,"align":"center","baseline":"middle","color":"#222"},"encoding":{"text":{"field":"t"}}}
]}
]
}
